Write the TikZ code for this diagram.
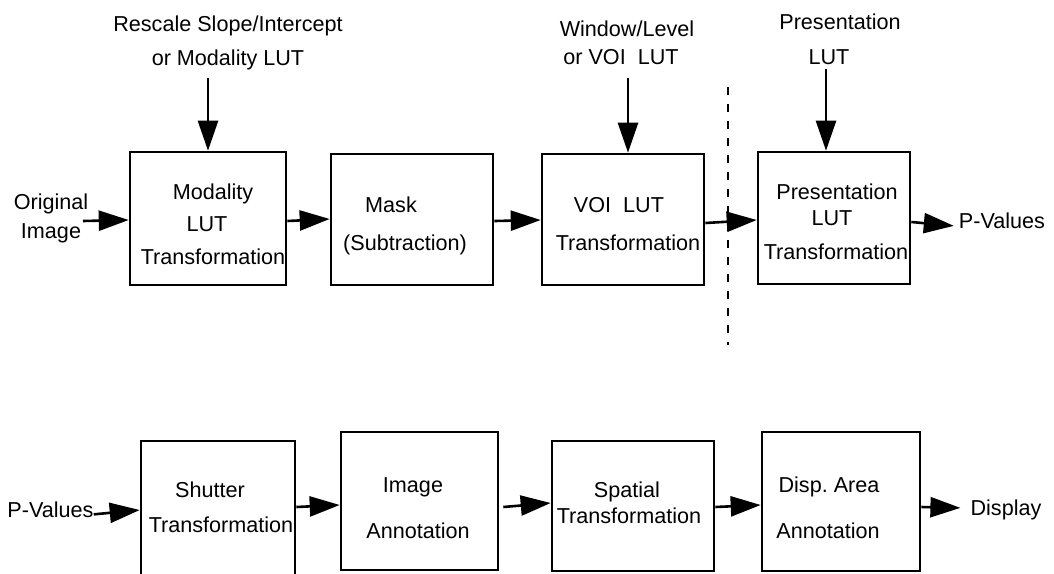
\documentclass[tikz,border=0pt]{standalone}
\usepackage{fontspec}
\setmainfont{Liberation Sans}
\usetikzlibrary{arrows.meta}
\frenchspacing
\begin{document}
\begin{tikzpicture}[x=1pt,y=-1pt,
  box/.style 2 args={draw,line width=2.6pt,minimum width=#1,minimum height=#2,inner sep=0pt},
  lbl/.style={font=\fontsize{21.6}{25}\selectfont,inner sep=0pt,anchor=base},
  arr/.style={line width=2.6pt,-{Triangle[length=30pt,width=20pt]}},
  divider/.style={line width=1.2pt,dash pattern=on 8pt off 9pt}]
\useasboundingbox (0,0) rectangle (1054,573);
\clip (0,0) rectangle (1054,573);
% top labels
\node[lbl] (t1) at (228,31.5) {Rescale Slope/Intercept};
\node[lbl] (t2) at (228,65.5) {or Modality LUT};
\node[lbl] (t3) at (627,36.5) {Window/Level};
\node[lbl] (t4) at (621,64.5) {or VOI\ \ LUT};
\node[lbl] (t5) at (840,29) {Presentation};
\node[lbl] (t6) at (829,64.5) {LUT};
\node[lbl] (o1) at (51,209) {Original};
\node[lbl] (o2) at (51,238) {Image};
% box texts, top row
\node[lbl] (m1) at (213,199.5) {Modality};
\node[lbl] (m2) at (207,231) {LUT};
\node[lbl] (m3) at (213,264.5) {Transformation};
\node[lbl] (k1) at (391,212.5) {Mask};
\node[lbl] (k2) at (405,250) {(Subtraction)};
\node[lbl] (v1) at (619,212.5) {VOI\ \ LUT};
\node[lbl] (v2) at (628,250.5) {Transformation};
\node[lbl] (p1) at (837,199.5) {Presentation};
\node[lbl] (p2) at (832,225.5) {LUT};
\node[lbl] (p3) at (836,259.5) {Transformation};
\node[lbl] (pv1) at (1002,228.5) {P-Values};
% bottom row texts
\node[lbl] (pv2) at (50.5,517) {P-Values};
\node[lbl] (s1) at (210,497.5) {Shutter};
\node[lbl] (s2) at (221,532.5) {Transformation};
\node[lbl] (i1) at (413,492) {Image};
\node[lbl] (i2) at (418,538.5) {Annotation};
\node[lbl] (sp1) at (627,497.5) {Spatial};
\node[lbl] (sp2) at (629,523.5) {Transformation};
\node[lbl] (d1) at (829,492) {Disp. Area};
\node[lbl] (d2) at (828,538.5) {Annotation};
\node[lbl] (dsp) at (1006,515.5) {Display};
% boxes
\node[box={156pt}{133pt}] (mod) at (208,218.5) {};
\node[box={162pt}{131pt}] (mask) at (412,219.5) {};
\node[box={162pt}{131pt}] (voi) at (623,219.5) {};
\node[box={152pt}{132pt}] (pres) at (834,218) {};
\node[box={154pt}{149pt}] (shut) at (218,515.5) {};
\node[box={157pt}{138pt}] (img) at (419.5,501) {};
\node[box={162pt}{130pt}] (spat) at (633,506) {};
\node[box={158pt}{139pt}] (disp) at (841,501.5) {};
% divider
\coordinate (dtop) at (728,87);
\coordinate (dbot) at (728,345);
\draw[divider] (dtop) -- (dbot);
% arrows top
\coordinate (oa) at (83,221);
\coordinate (ra) at (208,78);
\coordinate (wa) at (628,78);
\coordinate (pa) at (826,69);
\draw[arr] (oa) -- ([yshift=-1.5pt]mod.west);
\draw[arr] (ra) -- (ra |- mod.north);
\draw[arr] (wa) -- (wa |- voi.north);
\draw[arr] (pa) -- (pa |- pres.north);
\draw[arr] ([yshift=-2.5pt]mod.east) -- ([yshift=0.5pt]mask.west);
\draw[arr] ([yshift=-1.5pt]mask.east) -- ([yshift=-0.5pt]voi.west);
\draw[arr] ([yshift=-3.5pt]voi.east) -- ([yshift=-2pt]pres.west);
\draw[arr] ([yshift=-4pt]pres.east) -- ([xshift=-5pt]pv1.mid west);
% arrows bottom
\draw[arr] (pv2.mid east) -- ([yshift=5.5pt]shut.west);
\draw[arr] ([yshift=8.5pt]shut.east) -- ([yshift=-4pt]img.west);
\draw[arr] ([xshift=4pt,yshift=-6pt]img.east) -- ([yshift=3pt]spat.west);
\draw[arr] ([yshift=-1pt]spat.east) -- ([yshift=-3.5pt]disp.west);
\draw[arr] ([yshift=-5.5pt]disp.east) -- ([xshift=-10pt,yshift=5pt]dsp.mid west);
\end{tikzpicture}
\end{document}
